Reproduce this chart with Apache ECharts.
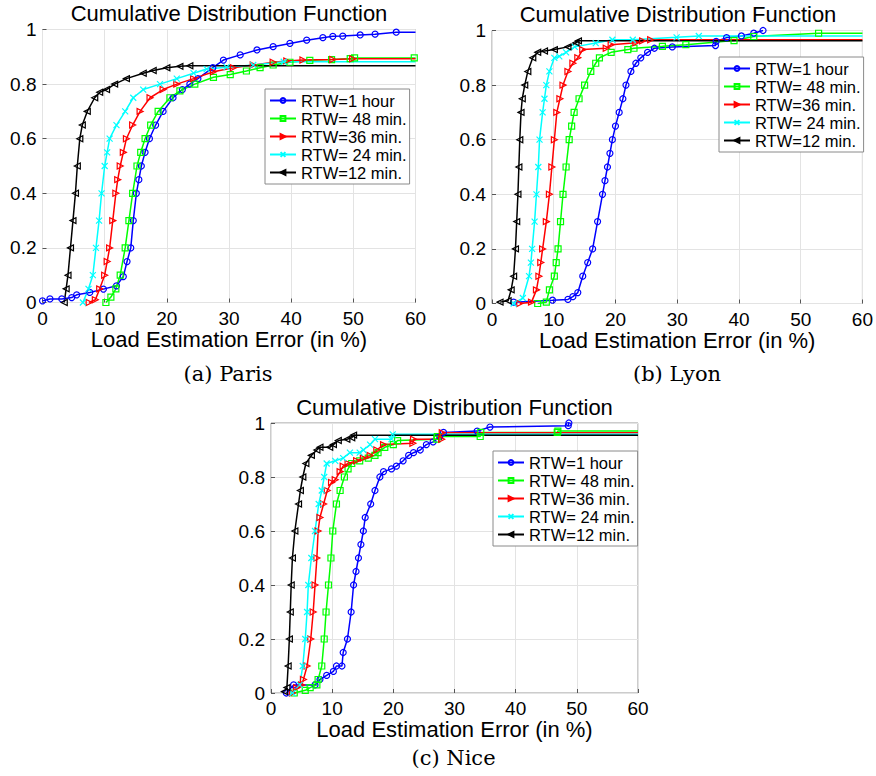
<!DOCTYPE html>
<html>
<head>
<meta charset="utf-8">
<script src="https://cdn.jsdelivr.net/npm/echarts@6/dist/echarts.min.js"></script>
<style>html,body{margin:0;padding:0;background:#fff}#c{width:876px;height:776px}</style>
</head>
<body>
<div id="c"></div>
<script>
// ---- data (x = load estimation error in %, y = cumulative probability) ----
const seriesNames = ['RTW=1 hour', 'RTW= 48 min.', 'RTW=36 min.', 'RTW= 24 min.', 'RTW=12 min.'];
const panelTitles = ['Cumulative Distribution Function', 'Cumulative Distribution Function', 'Cumulative Distribution Function'];
const panelCaptions = ['(a) Paris', '(b) Lyon', '(c) Nice'];
const xAxisName = 'Load Estimation Error (in %)';
const xTicks = [0, 10, 20, 30, 40, 50, 60];
const yTicks = [0, 0.2, 0.4, 0.6, 0.8, 1];

// Paris
const parisRTW60 = [[0,0.006],[1.2,0.013],[3.1,0.013],[4.7,0.018],[5.5,0.028],[7.6,0.037],[9.8,0.049],[11.9,0.061],[13,0.095],[13.6,0.15],[14.2,0.2],[14.6,0.3],[15.1,0.4],[15.5,0.45],[15.9,0.5],[16.5,0.55],[17.2,0.6],[18.2,0.65],[19.4,0.7],[21,0.75],[22.5,0.78],[23.7,0.8],[25,0.82],[27.4,0.86],[29.1,0.888],[31.8,0.907],[34.5,0.925],[37.1,0.937],[39.8,0.949],[42.5,0.961],[45.1,0.97],[46.7,0.975],[48.3,0.976],[51.1,0.98],[53.5,0.983],[56.9,0.99]];
const parisRTW48 = [[10.2,0],[11,0.02],[11.8,0.05],[12.5,0.1],[13.3,0.2],[13.9,0.3],[14.5,0.4],[15.2,0.5],[15.8,0.55],[16.5,0.6],[17.4,0.65],[18.6,0.7],[20.5,0.75],[22.1,0.775],[24.5,0.8],[27.5,0.825],[30.2,0.835],[32.8,0.848],[35,0.86],[37.1,0.87],[39.8,0.88],[43,0.887],[46.5,0.89],[49.5,0.893],[50.2,0.896],[59.8,0.896]];
const parisRTW36 = [[7.5,0],[8.5,0.01],[9.2,0.05],[10,0.1],[10.4,0.15],[10.8,0.2],[11.3,0.3],[11.8,0.4],[12.1,0.45],[12.5,0.5],[13,0.55],[13.5,0.6],[14.5,0.65],[15.7,0.7],[17.3,0.75],[19.4,0.78],[21.6,0.8],[24.3,0.82],[27.5,0.845],[30.7,0.86],[33.9,0.87],[37.1,0.88],[39.3,0.885],[41.9,0.888],[46.7,0.89],[49.9,0.893]];
const parisRTW24 = [[6.5,0],[7.4,0.05],[8.1,0.1],[8.6,0.2],[9.1,0.3],[9.5,0.4],[10,0.5],[10.4,0.55],[10.8,0.6],[11.9,0.65],[13.3,0.7],[14.6,0.75],[16.2,0.78],[18.9,0.8],[21.6,0.82],[24.3,0.84],[26.4,0.855],[29.6,0.862],[33.9,0.87],[38.8,0.882]];
const parisRTW12 = [[3.5,0],[3.8,0.05],[4.1,0.1],[4.5,0.2],[4.9,0.3],[5.3,0.4],[5.6,0.5],[6,0.6],[6.4,0.65],[7.2,0.7],[8.4,0.75],[9.2,0.77],[10.3,0.78],[11.6,0.8],[13.5,0.82],[16.2,0.84],[17.8,0.85],[20,0.86],[22.1,0.865],[23.7,0.867]];
const parisTail = [true, true, true, true, true];

// Lyon
const lyonRTW60 = [[3.5,0.005],[9.8,0.012],[12.3,0.015],[13.1,0.025],[13.9,0.04],[14.7,0.1],[15.5,0.15],[16.3,0.2],[17.1,0.3],[17.9,0.4],[18.3,0.45],[18.7,0.5],[19.1,0.55],[19.5,0.6],[20,0.65],[20.6,0.7],[21.2,0.75],[21.7,0.8],[22.5,0.85],[23.3,0.88],[24.1,0.9],[25.2,0.92],[26.3,0.935],[29.2,0.94],[36.2,0.945],[36.3,0.96],[38,0.974],[40.4,0.98],[42.4,0.99],[43.9,1.0]];
const lyonRTW48 = [[7.4,0],[8.8,0.005],[9.3,0.05],[10.1,0.1],[10.4,0.15],[10.7,0.2],[11.1,0.3],[11.5,0.4],[12,0.5],[12.5,0.6],[12.9,0.65],[13.3,0.7],[14.1,0.75],[15,0.8],[16,0.85],[16.8,0.88],[17.4,0.9],[19.3,0.92],[22,0.93],[23,0.935],[27.6,0.942],[31.4,0.948],[39.2,0.963],[42.4,0.978],[52.9,0.99]];
const lyonRTW36 = [[4.5,0],[6.4,0.005],[7.2,0.05],[7.6,0.1],[7.9,0.15],[8.2,0.2],[8.8,0.3],[9.3,0.4],[9.7,0.5],[10.1,0.6],[10.5,0.7],[11,0.75],[11.5,0.8],[12.3,0.85],[13.1,0.88],[13.9,0.9],[14.7,0.93],[18.5,0.935],[19.3,0.948],[23.3,0.955],[24.4,0.962],[25.7,0.966]];
const lyonRTW24 = [[3.5,0],[5,0.02],[6,0.1],[6.3,0.15],[6.5,0.2],[6.9,0.3],[7.2,0.4],[7.5,0.5],[7.7,0.6],[8.2,0.7],[8.5,0.75],[8.8,0.8],[9.3,0.85],[10.1,0.9],[10.9,0.905],[12,0.92],[13.4,0.94],[16.8,0.954],[19.5,0.966],[22.8,0.966],[29.9,0.975],[33.5,0.98]];
const lyonRTW12 = [[1.3,0.005],[2.6,0.01],[3.1,0.05],[3.5,0.1],[3.8,0.2],[4,0.3],[4.2,0.4],[4.35,0.5],[4.5,0.6],[4.7,0.7],[4.9,0.75],[5.3,0.8],[5.8,0.85],[6.6,0.9],[7.4,0.92],[8.5,0.925],[10.1,0.93],[12.3,0.94],[13.6,0.955],[14,0.962]];
const lyonTail = [false, true, true, true, true];

// Nice
const niceRTW60 = [[2.5,0],[3.7,0.03],[7.2,0.03],[8,0.05],[9.1,0.065],[10.2,0.08],[10.7,0.1],[11.6,0.1],[11.8,0.15],[12.5,0.2],[13.1,0.3],[13.5,0.4],[13.9,0.45],[14.3,0.5],[14.7,0.55],[15.1,0.6],[15.4,0.65],[16.3,0.7],[17,0.75],[17.8,0.8],[18.4,0.82],[19.7,0.83],[20.5,0.84],[21.6,0.86],[22.5,0.88],[23.3,0.89],[24.4,0.9],[25.4,0.92],[26.5,0.93],[27.6,0.95],[28.2,0.965],[33.7,0.97],[35.8,0.985],[48.6,0.99],[48.7,1.0]];
const niceRTW48 = [[3.8,0],[5.6,0.01],[6.4,0.02],[7.5,0.03],[7.7,0.05],[8.3,0.1],[8.7,0.2],[9,0.3],[9.4,0.4],[9.8,0.5],[10.1,0.6],[10.7,0.7],[11.3,0.75],[12,0.8],[12.6,0.83],[13.2,0.85],[14.5,0.86],[15.9,0.87],[17,0.88],[17.5,0.89],[18.6,0.91],[20,0.92],[20.7,0.935],[27.1,0.94],[27.2,0.95],[34.2,0.95],[34.3,0.965],[46.8,0.965],[46.9,0.97]];
const niceRTW36 = [[3.5,0],[4.2,0.02],[5,0.03],[5.3,0.05],[5.9,0.1],[6.5,0.2],[6.9,0.3],[7.2,0.4],[7.5,0.5],[7.7,0.6],[8,0.65],[8.6,0.7],[9.2,0.75],[9.9,0.78],[10.5,0.79],[11.3,0.82],[11.8,0.84],[12.6,0.85],[14,0.86],[15.1,0.87],[16.2,0.88],[17.3,0.9],[18.4,0.92],[23.2,0.925],[23.3,0.94],[27.9,0.94],[28,0.964]];
const niceRTW24 = [[3.5,0],[4.7,0.03],[5.2,0.1],[5.6,0.2],[5.9,0.3],[6.1,0.4],[6.6,0.5],[7.2,0.6],[7.8,0.7],[8.3,0.75],[8.7,0.8],[9.1,0.85],[10.5,0.86],[11.8,0.87],[12.9,0.89],[14.5,0.89],[15.1,0.9],[16.2,0.92],[17,0.94],[19.7,0.94],[19.9,0.958]];
const niceRTW12 = [[2.2,0.005],[2.6,0.02],[2.8,0.1],[3,0.2],[3.15,0.3],[3.3,0.4],[3.5,0.5],[3.9,0.6],[4.5,0.7],[4.8,0.75],[5.2,0.8],[5.7,0.85],[6.6,0.88],[7.5,0.9],[8,0.91],[9.6,0.91],[10.2,0.92],[11,0.935],[12.4,0.94],[13.2,0.945],[13.5,0.955]];
const niceTail = [false, true, true, true, true];

// ---- styling / layout ----
const FONT = 'Liberation Sans';
const SERIF = 'DejaVu Serif';
const colors = ['#0000ff', '#00ff00', '#ff0000', '#00ffff', '#000000'];
const symbols = ['circle', 'rect', 'triangle', 'path://M0,0L10,10M10,0L0,10', 'triangle'];
const rotations = [0, 0, -90, 0, 90];
const grids = [
  {left: 42.5, top: 29.5, width: 373, height: 273},
  {left: 492, top: 30.5, width: 372, height: 273},
  {left: 271, top: 423, width: 367, height: 270}
];
const legendPos = [
  {left: 265, top: 89},
  {left: 719, top: 57},
  {left: 493, top: 451}
];
const captionCenterY = [374, 374, 758];
const panels = [
  [parisRTW60, parisRTW48, parisRTW36, parisRTW24, parisRTW12],
  [lyonRTW60, lyonRTW48, lyonRTW36, lyonRTW24, lyonRTW12],
  [niceRTW60, niceRTW48, niceRTW36, niceRTW24, niceRTW12]
];
const tails = [parisTail, lyonTail, niceTail];
const X_MIN = xTicks[0], X_MAX = xTicks[xTicks.length - 1];

const xAxes = [], yAxes = [], series = [], titles = [], legends = [];
grids.forEach((g, i) => {
  xAxes.push({
    gridIndex: i, type: 'value', min: X_MIN, max: X_MAX, interval: xTicks[1] - xTicks[0],
    name: xAxisName, nameLocation: 'middle', nameGap: 24,
    nameTextStyle: {fontFamily: FONT, fontSize: 22, color: '#000'},
    axisLine: {show: false},
    axisTick: {show: true, inside: true, length: 4, lineStyle: {color: '#555'}},
    axisLabel: {show: true, fontFamily: FONT, fontSize: 19, color: '#000', margin: 6},
    splitLine: {show: true, lineStyle: {color: '#e3e3e3', width: 1}}
  });
  yAxes.push({
    gridIndex: i, type: 'value', min: yTicks[0], max: yTicks[yTicks.length - 1], interval: yTicks[1] - yTicks[0],
    axisLine: {show: false},
    axisTick: {show: true, inside: true, length: 4, lineStyle: {color: '#555'}},
    axisLabel: {show: true, fontFamily: FONT, fontSize: 19, color: '#000', margin: 6},
    splitLine: {show: true, lineStyle: {color: '#e3e3e3', width: 1}}
  });
  titles.push({
    text: panelTitles[i], left: g.left + g.width / 2, top: g.top - 27, textAlign: 'center', padding: 0,
    textStyle: {fontFamily: FONT, fontSize: 22, fontWeight: 'normal', color: '#000'}
  });
  titles.push({
    text: panelCaptions[i], left: g.left + g.width / 2 - 1, top: captionCenterY[i] - 11, textAlign: 'center', padding: 0,
    textStyle: {fontFamily: SERIF, fontSize: 21, fontWeight: 'normal', color: '#000'}
  });
  legends.push({
    left: legendPos[i].left, top: legendPos[i].top, orient: 'vertical',
    itemGap: 1, itemWidth: 26, itemHeight: 6, padding: [3, 3, 3, 4],
    borderColor: '#8a8a8a', borderWidth: 1, backgroundColor: '#fff',
    itemStyle: {color: 'transparent'},
    textStyle: {fontFamily: FONT, fontSize: 16.5, color: '#000'},
    selectedMode: false, data: seriesNames
  });
  panels[i].forEach((pts, k) => {
    let data = pts.slice();
    if (tails[i][k]) data.push({value: [X_MAX, pts[pts.length - 1][1]], symbol: 'none'});
    series.push({
      type: 'line', name: seriesNames[k], xAxisIndex: i, yAxisIndex: i,
      data: data, symbol: symbols[k], symbolSize: 6, symbolRotate: rotations[k],
      showSymbol: true, showAllSymbol: true, clip: true,
      itemStyle: {color: 'transparent', borderColor: colors[k], borderWidth: 1.2},
      lineStyle: {color: colors[k], width: 1.5},
      emphasis: {disabled: true}, animation: false
    });
  });
});

const chart = echarts.init(document.getElementById('c'), null, {renderer: 'svg'});
chart.setOption({
  backgroundColor: '#fff',
  animation: false,
  textStyle: {fontFamily: FONT, fontSize: 19, color: '#000'},
  title: titles,
  legend: legends,
  grid: grids.map(g => Object.assign({show: true, borderColor: '#999', borderWidth: 1, backgroundColor: 'transparent'}, g)),
  xAxis: xAxes,
  yAxis: yAxes,
  series: series
});
</script>
</body>
</html>
